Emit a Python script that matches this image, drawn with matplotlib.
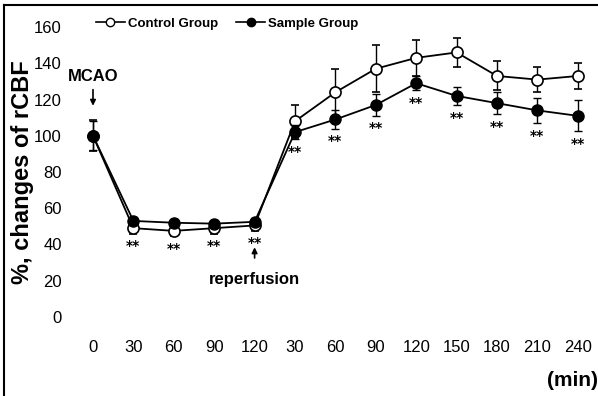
import matplotlib
matplotlib.use("Agg")
import matplotlib.pyplot as plt
from matplotlib.lines import Line2D

plt.rcParams['font.family'] = ['Liberation Sans', 'DejaVu Sans']

# data
tick_labels = ['0', '30', '60', '90', '120', '30', '60', '90', '120', '150', '180', '210', '240']
control = [100, 49, 47.5, 49, 50.5, 108, 124, 137, 143, 146, 133, 131, 133]
control_err = [8.5, 3, 3, 3, 3, 9, 13, 13, 10, 8, 8, 7, 7]
sample = [100, 53, 52, 51.5, 52.5, 102, 109, 117, 129, 122, 118, 114, 111]
sample_err = [8, 2, 2, 2, 2, 4, 5, 6, 4, 5, 6, 7, 8.5]
stars = [False, True, True, True, True, True, True, True, True, True, True, True, True]

x = list(range(len(tick_labels)))

fig = plt.figure(figsize=(5.98, 3.96), dpi=100)
ax = fig.add_axes([72.8/598, 70/396, 525.2/598, 308/396])

ax.errorbar(x, control, yerr=control_err, color='black', lw=1.3, elinewidth=1,
            capsize=3, capthick=1, marker='o', ms=8, mfc='white', mec='black',
            mew=1.2, zorder=3)
ax.errorbar(x, sample, yerr=sample_err, color='black', lw=1.3, elinewidth=1,
            capsize=3, capthick=1, marker='o', ms=8, mfc='black', mec='black',
            zorder=4)

for i in x:
    if stars[i]:
        low = min(control[i] - control_err[i], sample[i] - sample_err[i])
        ax.annotate('**', xy=(i, low), xytext=(0, -4), textcoords='offset points',
                    ha='center', va='top', fontsize=10, fontweight='bold',
                    family='DejaVu Sans')

ax.set_xlim(-0.5, 12.5)
ax.set_ylim(-5, 165)
ax.set_yticks([0, 20, 40, 60, 80, 100, 120, 140, 160])
ax.set_xticks(x)
ax.set_xticklabels(tick_labels)
ax.tick_params(axis='both', length=0, labelsize=12)
ax.tick_params(axis='x', pad=10)
ax.tick_params(axis='y', pad=8)
for s in ax.spines.values():
    s.set_visible(False)

ax.set_ylabel('%, changes of rCBF', fontsize=17, fontweight='bold')
ax.yaxis.set_label_coords(-0.074, 0.5)

ax.text(0, 132.5, 'MCAO', ha='center', va='center', fontsize=12, fontweight='bold')
ax.annotate('', xy=(0, 115), xytext=(0, 127),
            arrowprops=dict(arrowstyle='-|>', color='black', lw=1.2, mutation_scale=8))
ax.text(4, 20.5, 'reperfusion', ha='center', va='center', fontsize=12, fontweight='bold')
ax.annotate('', xy=(4, 40), xytext=(4, 31),
            arrowprops=dict(arrowstyle='-|>', color='black', lw=1.2, mutation_scale=8))

fig.text(572/598, 1 - 380/396, '(min)', ha='center', va='center', fontsize=15, fontweight='bold')

handles = [Line2D([], [], color='black', lw=1.2, marker='o', ms=6, mfc='white', mec='black'),
           Line2D([], [], color='black', lw=1.2, marker='o', ms=6, mfc='black', mec='black')]
ax.legend(handles, ['Control Group', 'Sample Group'], loc='center left',
          bbox_to_anchor=(84/598, 1 - 24/396), bbox_transform=fig.transFigure,
          ncol=2, frameon=False, handlelength=2.2, handletextpad=0.2,
          columnspacing=1.4, prop={'weight': 'bold', 'size': 9.5})

fig.add_artist(Line2D([4/598, 1], [1 - 5/396, 1 - 5/396], color='black', lw=1.5,
                      transform=fig.transFigure))
fig.add_artist(Line2D([4/598, 4/598], [0, 1 - 5/396], color='black', lw=1.5,
                      transform=fig.transFigure))

fig.savefig('out.png', dpi=100)
